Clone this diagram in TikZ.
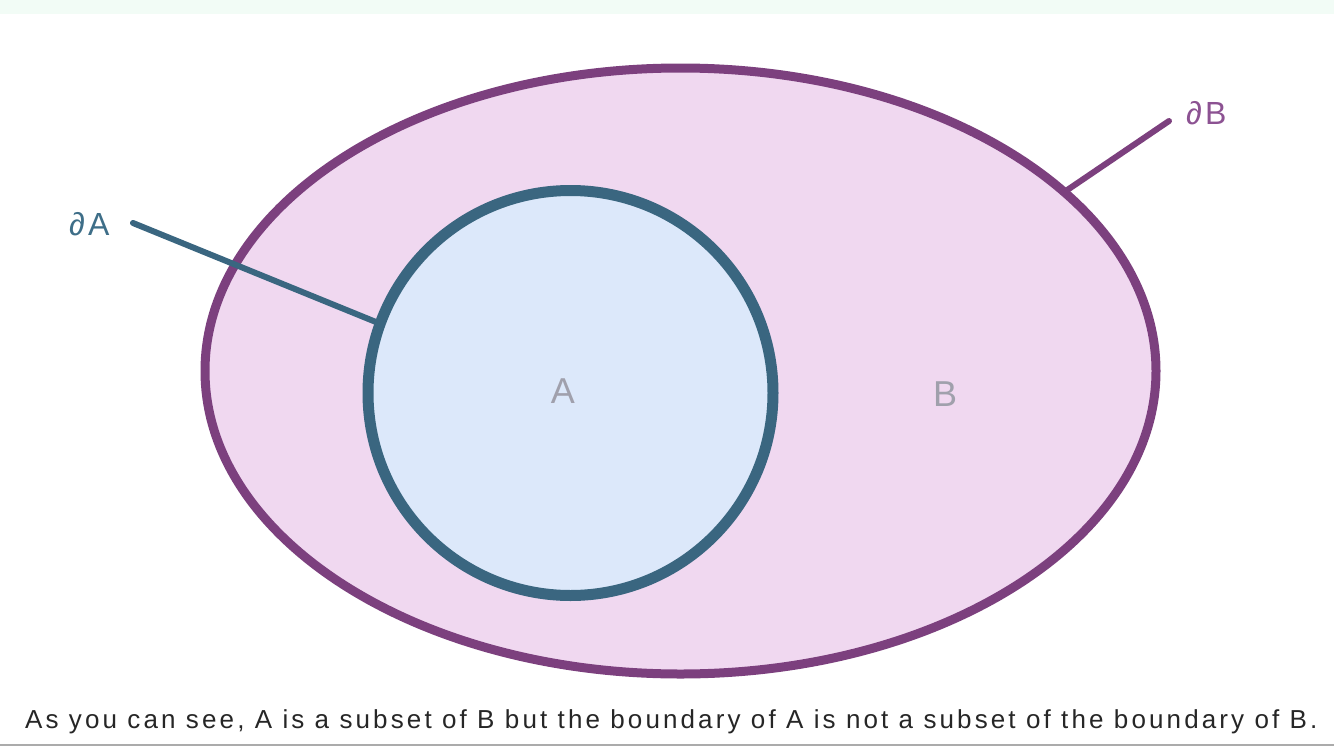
\documentclass[tikz,border=0pt]{standalone}
\usepackage{fontspec}
\setmainfont{Liberation Sans}
\newfontfamily\capfont[LetterSpace=12]{Liberation Sans}
\newfontfamily\lblfont[LetterSpace=10]{Liberation Sans}
\usetikzlibrary{shapes.geometric}
\definecolor{bline}{RGB}{124,64,126}
\definecolor{bfill}{RGB}{240,216,240}
\definecolor{aline}{RGB}{58,102,128}
\definecolor{afill}{RGB}{220,232,250}
\definecolor{btext}{RGB}{140,82,146}
\definecolor{atext}{RGB}{62,110,136}
\definecolor{inner}{RGB}{160,160,172}
\definecolor{topband}{RGB}{242,252,246}
\begin{document}
\begin{tikzpicture}[x=1pt, y=-1pt,
    region/.style = {draw, outer sep=0pt, inner sep=0pt},
    setname/.style = {inner sep=0pt, anchor=base, text=inner, font=\fontsize{36}{40}\selectfont},
    bdname/.style = {inner sep=0pt, anchor=base west, font=\lblfont\fontsize{32}{36}\selectfont},
    leader/.style = {line width=6pt, line cap=round}]
    \useasboundingbox (0,0) rectangle (1334,750);
    \fill[topband] (0,0) rectangle (1334,14);
    \draw[line width=2pt, black!33] (0,745) -- (1334,745);
    \node[region, ellipse, bline, fill=bfill, line width=9pt, minimum width=951pt, minimum height=606pt] (B) at (680.5,371) {};
    \node[region, circle, aline, fill=afill, line width=11pt, minimum size=405pt] (A) at (570.5,393) {};
    \node[setname] (a) at (563,403) {A};
    \node[setname] (b) at (945,406) {B};
    \node[bdname, text=atext] (dA) at (69,235) {∂A};
    \node[bdname, text=btext] (dB) at (1186,124) {∂B};
    \coordinate (dAend) at (133,223);
    \coordinate (dBend) at (1169,121);
    \draw[leader, aline] (dAend) -- (A.160);
    \draw[leader, bline] (dBend) -- (B.25);
    \node[inner sep=0pt, anchor=base west, text=black!85, font=\capfont\fontsize{26}{30}\selectfont] (cap) at (25,728) {As you can see, A is a subset of B but the boundary of A is not a subset of the boundary of B.};
\end{tikzpicture}
\end{document}
